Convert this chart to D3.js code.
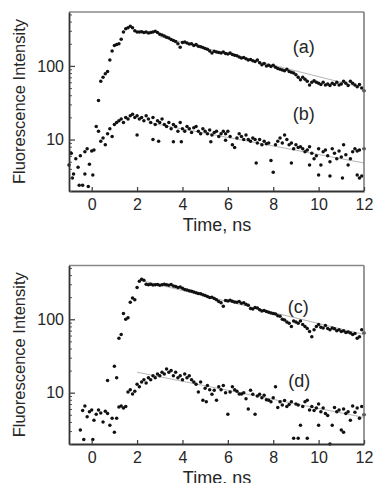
<!DOCTYPE html>
<html><head><meta charset="utf-8">
<script src="https://cdn.jsdelivr.net/npm/d3@7"></script>
<style>body{margin:0;background:#fff}svg{display:block}</style>
</head><body>
<script>
// ---------- DATA ----------
const xTicks = [0, 2, 4, 6, 8, 10, 12];
const yMajor = [10, 100];
const yMinor = [2,3,4,5,6,7,8,9,20,30,40,50,60,70,80,90,200,300,400,500];
const xLabel = "Time, ns";
const yLabel = "Fluorescence Intensity";

// uniform channel times: start + i*step
const stepNs = 0.1;
const startA = 0.3;
const valsA = [34,62,70,78,84,120,160,190,195,200,230,290,320,330,345,330,300,290,288,292,285,290,280,285,290,295,285,270,262,255,245,240,228,222,215,200,180,208,212,205,198,200,190,195,185,182,178,172,168,160,150,158,155,152,150,154,148,145,150,143,140,137,132,128,130,125,120,122,118,115,120,110,104,108,100,102,98,102,96,92,90,88,86,90,84,82,80,76,70,65,70,66,62,55,60,63,60,58,56,60,55,57,54,58,56,60,55,57,62,58,54,62,58,55,52,56,50,46];
const startB = -1.0;
const valsB = [4.5,6.5,3.4,5.5,4.2,6.0,2.4,6.8,7.5,4.6,7.0,7.2,15,13,9.5,10.5,8.5,12,14,11,16,17,18,19,17,20,19,21,22,20,21,19,20,18,21,19,17,20,16,18,17,19,16,15,17,14,16,15,13,17,14,13,15,14,12.5,14.5,15,13,12,14,13,12,13.5,11.5,12.5,13,11,12,13,12,13,11,8.5,7.8,10.5,12,11,10,11.5,10,9.5,10.5,10,9,10,8.5,9.5,8.8,9,5.2,3.6,8.5,9.5,10.5,9,11.5,10,8.5,9,7.5,8.5,7.8,8,7.5,6.8,7.2,8,6.5,5.5,6,7.5,4.5,6.8,7.2,6,5,7.5,6.5,5.5,7,5.8,8.5,6.2,4.5,5.5,6.8,7.5,7,7.2,3.2,7.5];
const extraB = [[-0.85,3.0],[-0.55,2.4],[-0.3,3.4],[-0.15,2.3],[0.05,3.3],[2.0,11.5],[2.7,10],[2.95,9.5],[3.6,9.3],[3.95,9.3],[5.25,9.3],[5.9,9.8],[7.25,4.8],[8.8,4.8],[9.6,4.5],[10.0,3.3],[10.5,3.2],[11.05,3.0],[11.7,3.3],[11.8,3.0]];
const fitB = [[2.5,17],[12,4.8]];
const fitA = [[3.0,250],[12,50]];

const startC = 1.0;
const valsC = [23,16,55,62,120,100,105,170,195,185,270,330,350,340,300,295,300,292,295,298,290,295,300,295,290,298,285,280,270,275,265,255,250,245,240,235,230,225,222,215,210,205,198,200,192,185,175,168,150,180,178,182,176,172,170,174,165,168,160,155,140,138,145,142,135,130,132,128,125,122,120,118,112,110,100,98,92,88,80,95,92,88,95,85,80,75,68,58,72,80,85,78,76,82,75,72,76,74,70,72,68,70,66,67,65,62,64,55,58,72,65];
const fitC = [[2.3,330],[12,62]];
const startD = -0.5;
const valsD = [3.1,5.7,6.6,4.7,5.5,5.8,4.2,5.1,5.8,5.3,4.0,5.6,5.2,3.6,4.5,2.9,4.5,6.4,6.6,6.2,6.5,10.2,11,9.6,10.5,13,12,14,15,13.5,16,15,17,16,18,17,19,18,21,19,20,17,19,16,17,15,18,16,17,15,14,13,10.2,14,7.9,11.5,12.5,11,9.5,10.8,7.9,12,11,12.5,10,5.1,10.2,12,11,10.5,9.6,9.6,10,8.3,6.0,10.8,9.5,5.1,9,9.5,8.5,9.2,8,7.9,7.5,8.5,12,6.3,7.5,6.8,7.8,6.5,6.9,7.5,2.4,7.0,6.8,3.6,6.5,7.5,7.9,5.8,6.5,5.7,6.2,7.0,5.5,6.2,5.2,4.9,2.0,3.6,6.3,5.5,5.8,3.1,6.0,5.2,5.5,4.2,6.6,5.4,6.2,4.5,6.5,5.0];
const extraD = [[-0.35,2.3],[0.05,2.3],[0.7,14.7],[9.1,2.4],[9.5,2.4],[10.0,3.6],[11.1,2.9],[5.05,7.5]];
const fitD = [[2.0,19],[12,4.6]];

const seriesLabels = ["(a)","(b)","(c)","(d)"];

// ---------- DRAW ----------
const W = 375, H = 483;
const svg = d3.select("body").append("svg").attr("width", W).attr("height", H);
const font = "'Liberation Sans', Arial, sans-serif";
const ink = "#262626";

function toPts(start, vals){ return vals.map((v,i)=>[+(start + i*stepNs).toFixed(3), v]); }

const panels = [
  {top: 12, bottom: 191, s1: toPts(startA, valsA), s2: toPts(startB, valsB).concat(extraB), fits:[fitA, fitB],
   labels:[{t:seriesLabels[0], x:9.35, y:182},{t:seriesLabels[1], x:9.35, y:22}], xlabY: 231},
  {top: 265.5, bottom: 444, s1: toPts(startC, valsC), s2: toPts(startD, valsD).concat(extraD), fits:[fitC, fitD],
   labels:[{t:seriesLabels[2], x:9.1, y:148},{t:seriesLabels[3], x:9.15, y:14.5}], xlabY: 484}
];

const left = 69, right = 364;
panels.forEach(p => {
  const x = d3.scaleLinear().domain([-1, 12]).range([left, right]);
  const y = d3.scaleLog().domain([2, 540]).range([p.bottom, p.top]);
  const g = svg.append("g");

  // fit lines
  const line = d3.line().x(d=>x(d[0])).y(d=>y(d[1]));
  p.fits.forEach(f => g.append("path").attr("d", line(f)).attr("fill","none").attr("stroke","#b5b5b5").attr("stroke-width",1));

  // points
  [p.s1, p.s2].forEach(s => {
    g.selectAll(null).data(s.filter(d=>d[1]>=2 && d[1]<=540)).enter().append("circle")
      .attr("cx", d=>x(d[0])).attr("cy", d=>y(d[1])).attr("r", 1.75).attr("fill", "#111");
  });

  // frame
  g.append("line").attr("x1",left).attr("x2",right).attr("y1",p.top).attr("y2",p.top).attr("stroke","#888").attr("stroke-width",1.5);
  g.append("line").attr("x1",right).attr("x2",right).attr("y1",p.top).attr("y2",p.bottom).attr("stroke","#777").attr("stroke-width",1.5);

  // x axis
  const xa = g.append("g").attr("transform",`translate(0,${p.bottom})`)
    .call(d3.axisBottom(x).tickValues(xTicks).tickSize(-4).tickPadding(8).tickSizeOuter(0));
  xa.select(".domain").attr("stroke","#333").attr("stroke-width",1.8);
  xa.selectAll(".tick line").attr("stroke","#444").attr("stroke-width",1.3);
  xa.selectAll("text").attr("font-family",font).attr("font-size",16).attr("fill",ink);

  // y axis minor
  const ym = g.append("g").attr("transform",`translate(${left},0)`)
    .call(d3.axisLeft(y).tickValues(yMinor).tickSize(-3).tickFormat(""));
  ym.select(".domain").remove();
  ym.selectAll(".tick line").attr("stroke","#555").attr("stroke-width",1);
  // y axis major
  const ya = g.append("g").attr("transform",`translate(${left},0)`)
    .call(d3.axisLeft(y).tickValues(yMajor).tickSize(-6).tickPadding(5).tickSizeOuter(0).tickFormat(d3.format("d")));
  ya.select(".domain").attr("stroke","#333").attr("stroke-width",1.8);
  ya.selectAll(".tick line").attr("stroke","#444").attr("stroke-width",1.3);
  ya.selectAll("text").attr("font-family",font).attr("font-size",16).attr("fill",ink);

  // axis titles
  svg.append("text").attr("x",217).attr("y",p.xlabY).attr("text-anchor","middle")
    .attr("font-family",font).attr("font-size",18).attr("fill",ink).text(xLabel);
  svg.append("text").attr("transform",`translate(19,${(p.top+p.bottom)/2}) rotate(-90)`)
    .attr("text-anchor","middle").attr("dominant-baseline","central")
    .attr("font-family",font).attr("font-size",16.5).attr("fill",ink).text(yLabel);

  // series labels
  p.labels.forEach(l => svg.append("text").attr("x",x(l.x)).attr("y",y(l.y)).attr("text-anchor","middle")
    .attr("dominant-baseline","central").attr("font-family",font).attr("font-size",18).attr("fill",ink).text(l.t));
});
</script>
</body></html>
